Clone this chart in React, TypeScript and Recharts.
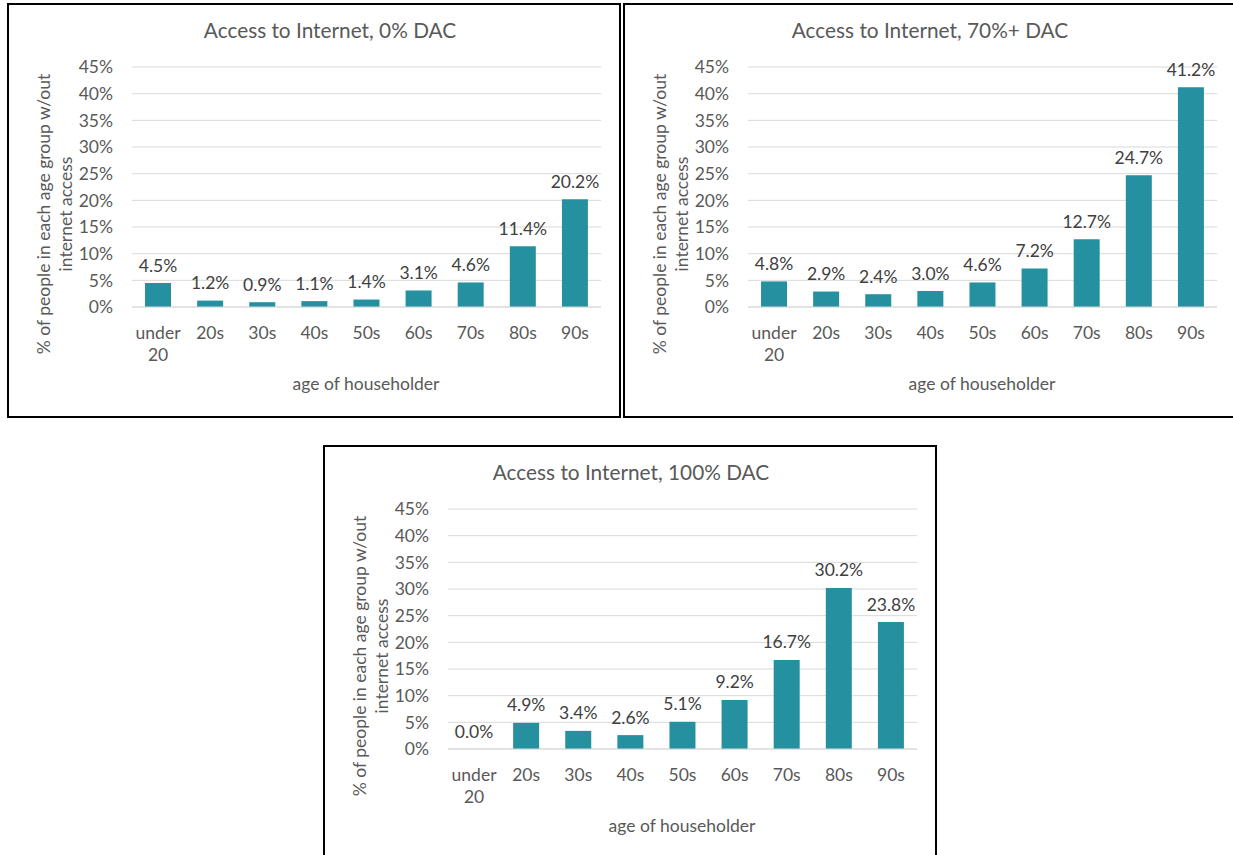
import React from "react";
import { ComposedChart, Bar, Line, XAxis, YAxis, CartesianGrid, LabelList } from "recharts";

const ageGroups = ["under 20", "20s", "30s", "40s", "50s", "60s", "70s", "80s", "90s"];
const dac0 = [4.5, 1.2, 0.9, 1.1, 1.4, 3.1, 4.6, 11.4, 20.2];
const dac70 = [4.8, 2.9, 2.4, 3.0, 4.6, 7.2, 12.7, 24.7, 41.2];
const dac100 = [0.0, 4.9, 3.4, 2.6, 5.1, 9.2, 16.7, 30.2, 23.8];
const yTicks = [0, 5, 10, 15, 20, 25, 30, 35, 40, 45];

const FONT = "Lato, 'Open Sans', sans-serif";
const GRAY = "#595959";
const BAR = "#25909f";
const FS = 17.5;

const BOX_W = 614;
const BOX_H = 415;

const CatTick = (props: any) => {
  const { x, y, payload } = props;
  const lines = String(payload.value).split(" ");
  return (
    <text x={x} y={y} textAnchor="middle" fill={GRAY} fontSize={FS} fontFamily={FONT}>
      {lines.map((l, i) => (
        <tspan key={i} x={x} y={y + 17 + i * 22} dominantBaseline="central">
          {l}
        </tspan>
      ))}
    </text>
  );
};

// value label above each point of the hidden line (covers zero values too)
const ValueLabel = (props: any) => {
  const { x, y, width, value } = props;
  if (value == null) return null;
  return (
    <text
      x={Number(x) + (Number(width) || 0) / 2}
      y={Number(y) - 18}
      textAnchor="middle"
      dominantBaseline="central"
      fill="#404040"
      fontSize={FS}
      fontFamily={FONT}
    >
      {`${Number(value).toFixed(1)}%`}
    </text>
  );
};

const Panel = ({
  left,
  top,
  title,
  titleCx,
  values,
}: {
  left: number;
  top: number;
  title: string;
  titleCx: number;
  values: number[];
}) => {
  const data = ageGroups.map((g, i) => ({ age: g, value: values[i] }));
  return (
    <div
      style={{
        position: "absolute",
        left,
        top,
        width: BOX_W,
        height: BOX_H,
        border: "2px solid #000",
        boxSizing: "border-box",
        background: "#fff",
        fontFamily: FONT,
      }}
    >
      <div
        style={{
          position: "absolute",
          left: titleCx - 2 - 250,
          width: 500,
          top: 27 - 2 - 13,
          lineHeight: "26px",
          textAlign: "center",
          fontSize: 20.8,
          color: GRAY,
        }}
      >
        {title}
      </div>
      <div
        style={{
          position: "absolute",
          left: 48 - 2 - 170,
          top: 211 - 2 - 22,
          width: 340,
          height: 44,
          lineHeight: "22px",
          textAlign: "center",
          fontSize: FS,
          color: GRAY,
          transform: "rotate(-90deg)",
          transformOrigin: "center",
        }}
      >
        % of people in each age group w/out
        <br />
        internet access
      </div>
      <div
        style={{
          position: "absolute",
          left: 359 - 2 - 150,
          width: 300,
          top: 381 - 2 - 11,
          lineHeight: "22px",
          textAlign: "center",
          fontSize: FS,
          color: GRAY,
        }}
      >
        age of householder
      </div>
      <ComposedChart
        width={BOX_W - 4}
        height={BOX_H - 4}
        data={data}
        margin={{ top: 62, right: 18, left: 63, bottom: 49 }}
        barCategoryGap="25%"
        style={{ position: "absolute", left: 0, top: 0 }}
      >
        <CartesianGrid vertical={false} stroke="#d9d9d9" />
        <XAxis
          dataKey="age"
          height={60}
          axisLine={{ stroke: "#d9d9d9" }}
          tickLine={false}
          interval={0}
          tick={<CatTick />}
        />
        <YAxis
          width={60}
          domain={[0, 45]}
          ticks={yTicks}
          tickFormatter={(v: number) => `${v}%`}
          axisLine={false}
          tickLine={false}
          tickMargin={13}
          tick={{ fill: GRAY, fontSize: FS, fontFamily: FONT }}
        />
        <Bar dataKey="value" fill={BAR} isAnimationActive={false} />
        <Line
          dataKey="value"
          stroke="none"
          dot={false}
          activeDot={false}
          isAnimationActive={false}
        >
          <LabelList dataKey="value" content={<ValueLabel />} />
        </Line>
      </ComposedChart>
    </div>
  );
};

export default function App() {
  return (
    <div
      style={{
        position: "absolute",
        left: 0,
        top: 0,
        width: 1233,
        height: 855,
        overflow: "hidden",
        background: "#fff",
      }}
    >
      <Panel left={7} top={3} title="Access to Internet, 0% DAC" titleCx={323} values={dac0} />
      <Panel left={623} top={3} title="Access to Internet, 70%+ DAC" titleCx={307} values={dac70} />
      <Panel left={323} top={445} title="Access to Internet, 100% DAC" titleCx={308} values={dac100} />
    </div>
  );
}
